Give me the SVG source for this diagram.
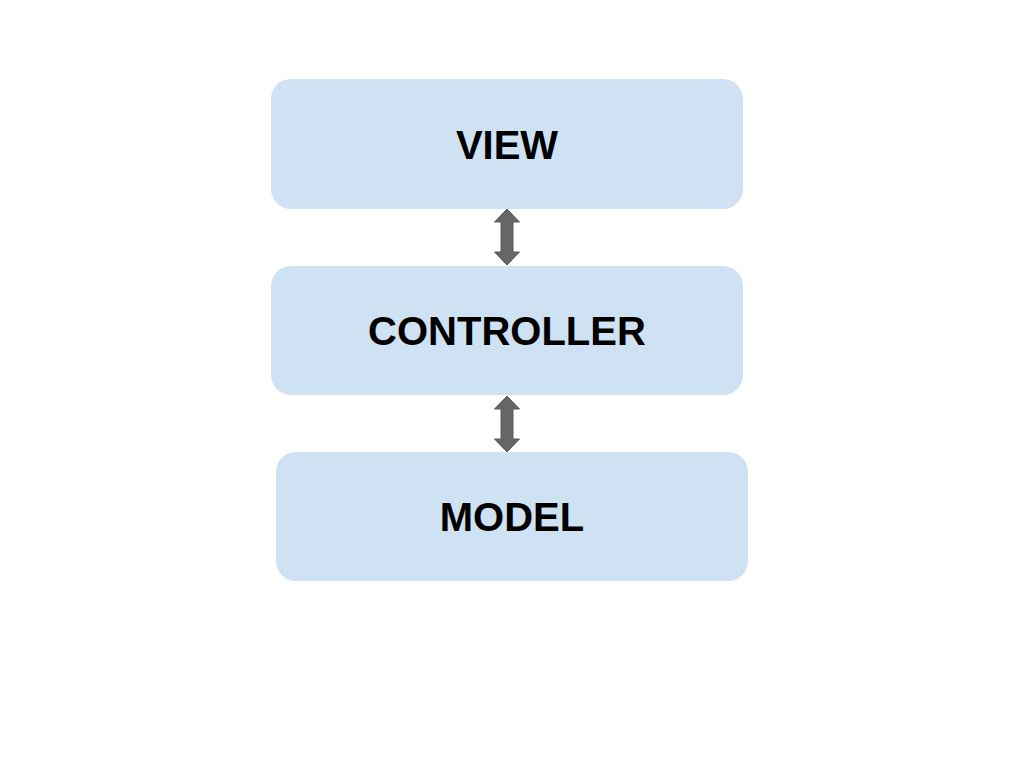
<svg xmlns="http://www.w3.org/2000/svg" width="1024" height="768" viewBox="0 0 1024 768">
<style>
.box{fill:#cfe2f3;}
.lbl{font-family:"Liberation Sans",Arial,sans-serif;font-weight:bold;font-size:40px;fill:#000;text-anchor:middle;}
.arr{fill:#666666;stroke:#5a5a5a;stroke-width:1;}
</style>
<rect width="1024" height="768" fill="#ffffff"/>
<g id="view"><rect class="box" x="271" y="79" width="472" height="130" rx="20"/><text class="lbl" x="507" y="159">VIEW</text></g>
<g id="controller"><rect class="box" x="271" y="266" width="472" height="129" rx="20"/><text class="lbl" x="507" y="345">CONTROLLER</text></g>
<g id="model"><rect class="box" x="276" y="452" width="472" height="129" rx="20"/><text class="lbl" x="512" y="531">MODEL</text></g>
<g id="connectors">
<path class="arr" d="M507,209 L519.5,222 L513,222 L513,252 L519.5,252 L507,265 L494.5,252 L501,252 L501,222 L494.5,222 Z"/>
<path class="arr" d="M507,396 L519.5,409 L513,409 L513,439 L519.5,439 L507,452 L494.5,439 L501,439 L501,409 L494.5,409 Z"/>
</g>
</svg>
